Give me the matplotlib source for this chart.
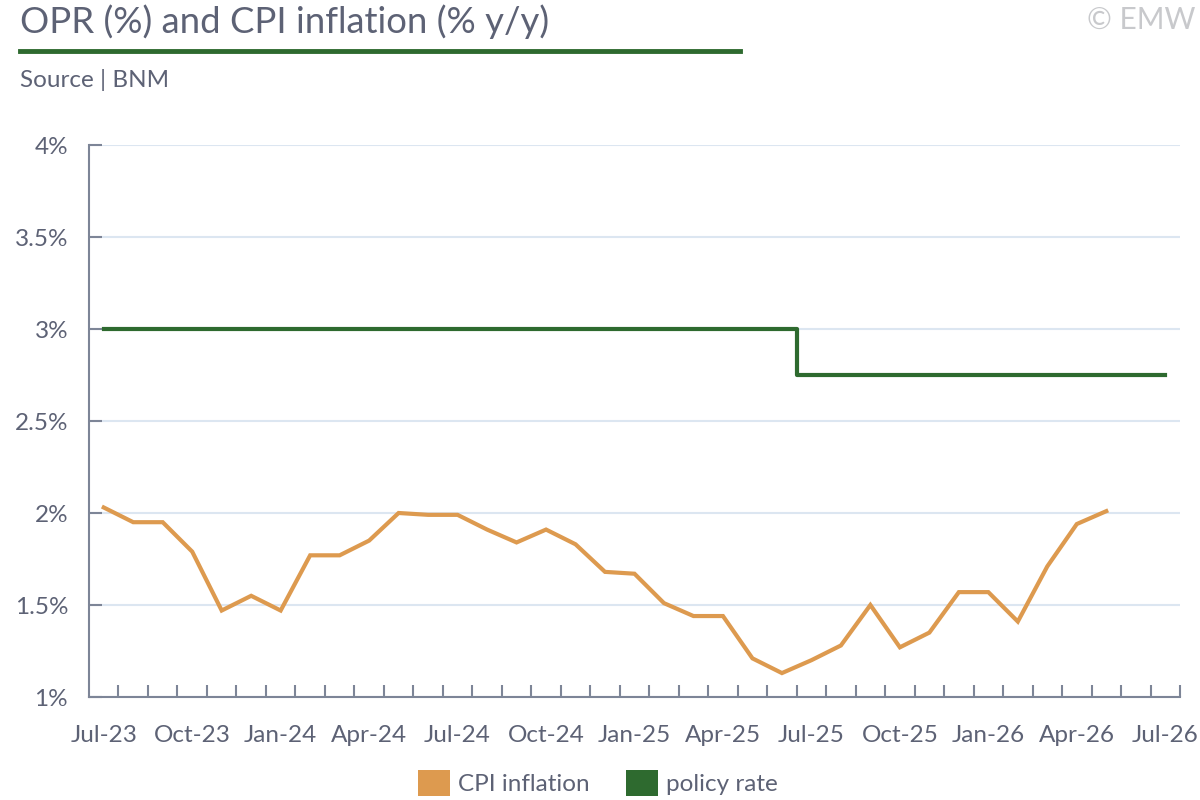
import matplotlib.pyplot as plt
from matplotlib.patches import Patch
from matplotlib.lines import Line2D
from matplotlib.ticker import FixedLocator, FuncFormatter

plt.rcParams['font.family'] = ['Lato', 'DejaVu Sans']

# monthly categories Jul-23 .. Jul-26
months = ['Jul-23', 'Aug-23', 'Sep-23', 'Oct-23', 'Nov-23', 'Dec-23',
          'Jan-24', 'Feb-24', 'Mar-24', 'Apr-24', 'May-24', 'Jun-24',
          'Jul-24', 'Aug-24', 'Sep-24', 'Oct-24', 'Nov-24', 'Dec-24',
          'Jan-25', 'Feb-25', 'Mar-25', 'Apr-25', 'May-25', 'Jun-25',
          'Jul-25', 'Aug-25', 'Sep-25', 'Oct-25', 'Nov-25', 'Dec-25',
          'Jan-26', 'Feb-26', 'Mar-26', 'Apr-26', 'May-26', 'Jun-26',
          'Jul-26']

cpi = [2.03, 1.95, 1.95, 1.79, 1.47, 1.55, 1.47, 1.77, 1.77, 1.85,
       2.00, 1.99, 1.99, 1.91, 1.84, 1.91, 1.83, 1.68, 1.67, 1.51,
       1.44, 1.44, 1.21, 1.13, 1.20, 1.28, 1.50, 1.27, 1.35, 1.57,
       1.57, 1.41, 1.71, 1.94, 2.01]

policy_rate = [3.00] * 24 + [2.75] * 13

yticks = [1, 1.5, 2, 2.5, 3, 3.5, 4]

TXT = '#5d6275'
AXC = '#7d8597'
GREEN = '#2e6a2f'
ORANGE = '#dd9a4f'
GRID = '#dce6f1'

fig = plt.figure(figsize=(12, 8), dpi=100)
ax = fig.add_axes([89 / 1200, 1 - 697 / 800, 1091 / 1200, 552 / 800])

ax.plot(range(len(policy_rate)), policy_rate, color=GREEN, lw=3,
        drawstyle='steps-mid', zorder=3)
ax.plot(range(len(cpi)), cpi, color=ORANGE, lw=3, zorder=4,
        solid_joinstyle='miter')

ax.set_xlim(-0.5, len(months) - 0.5)
ax.set_ylim(1, 4)

ax.yaxis.set_major_locator(FixedLocator(yticks))
ax.yaxis.set_major_formatter(FuncFormatter(lambda v, p: f'{v:g}%'))
ax.grid(axis='y', color=GRID, lw=1.5, zorder=0)
ax.set_axisbelow(True)

ax.set_xticks(range(0, len(months), 3))
ax.set_xticklabels(months[::3])
ax.set_xticks([i + 0.5 for i in range(len(months))], minor=True)

ax.tick_params(axis='x', which='major', length=0, pad=20,
               labelsize=17.5, labelcolor=TXT)
ax.tick_params(axis='x', which='minor', direction='in', length=9,
               width=1.5, color=AXC)
ax.tick_params(axis='y', direction='in', length=9, width=1.5, color=AXC,
               pad=15, labelsize=17.5, labelcolor=TXT)

for s in ['top', 'right']:
    ax.spines[s].set_visible(False)
for s in ['left', 'bottom']:
    ax.spines[s].set_color(AXC)
    ax.spines[s].set_linewidth(1.5)

# header
fig.text(20 / 1200, 1 - 22 / 800, 'OPR (%) and CPI inflation (% y/y)',
         fontsize=26.3, color=TXT, va='center', ha='left')
fig.text(1195 / 1200, 1 - 20 / 800, '© EMW', fontsize=21.5, color='#c8c9cc',
         va='center', ha='right')
fig.add_artist(Line2D([20 / 1200, 740 / 1200], [1 - 51 / 800, 1 - 51 / 800],
                      color=GREEN, lw=3.5, transform=fig.transFigure))
fig.text(20 / 1200, 1 - 80 / 800, 'Source | BNM', fontsize=17.5, color=TXT,
         va='center', ha='left')

handles = [Patch(facecolor=ORANGE, edgecolor='none', label='CPI inflation'),
           Patch(facecolor=GREEN, edgecolor='none', label='policy rate')]
fig.legend(handles=handles, loc='center', bbox_to_anchor=(598 / 1200, 1 - 783 / 800),
           ncol=2, frameon=False, fontsize=17.5, labelcolor=TXT,
           handlelength=1.3, handleheight=1.3, handletextpad=0.35,
           columnspacing=1.5)

fig.savefig('out.png', dpi=100)
